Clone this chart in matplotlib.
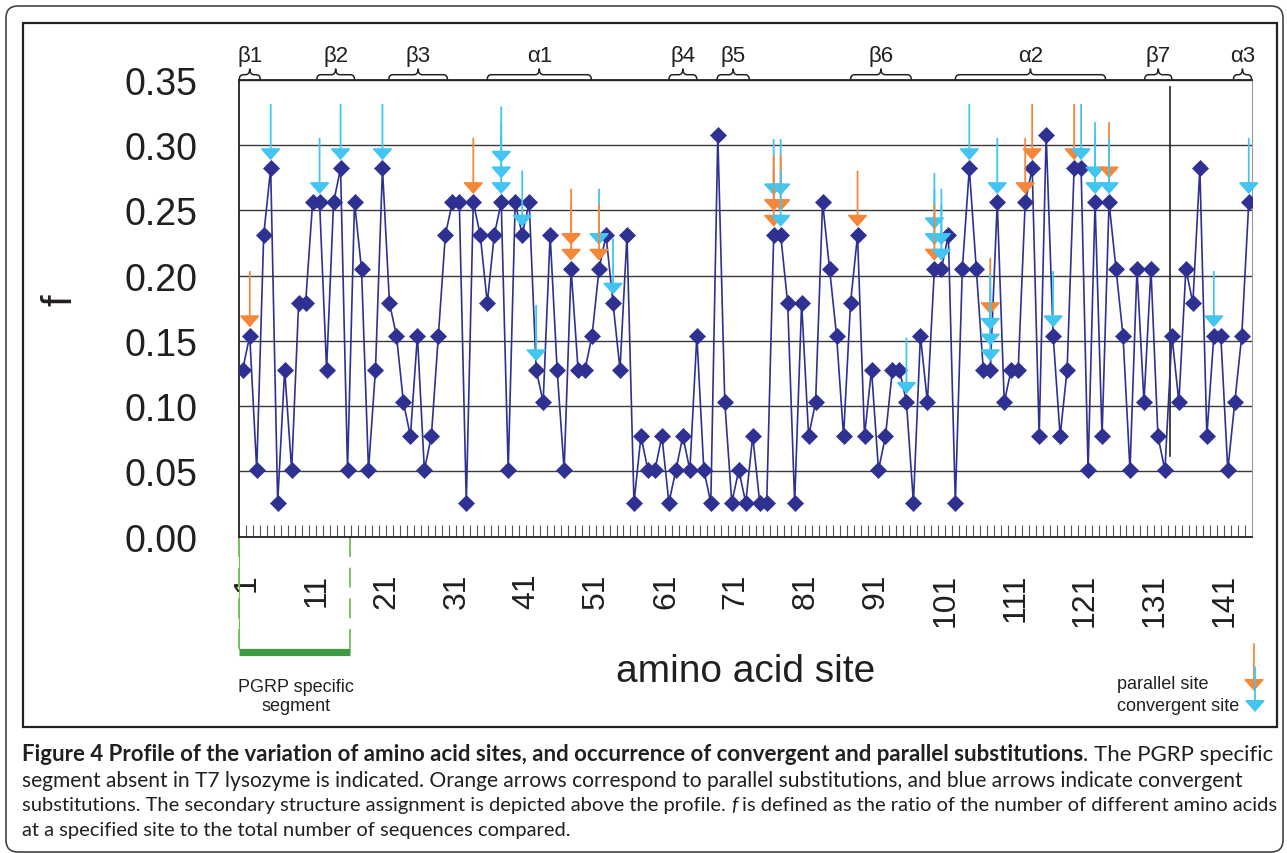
import numpy as np
import matplotlib
matplotlib.use("Agg")
import matplotlib.pyplot as plt
from matplotlib import font_manager
from matplotlib.path import Path
from matplotlib.patches import PathPatch, FancyBboxPatch, Rectangle
from matplotlib.transforms import (blended_transform_factory, offset_copy, IdentityTransform,
                                   ScaledTranslation)

# 各サイトの f 値 (1..145)
sites = np.arange(1, 146)
f_values = [
    0.128, 0.154, 0.051, 0.231, 0.282, 0.026, 0.128, 0.051, 0.179, 0.179,
    0.256, 0.256, 0.128, 0.256, 0.282, 0.051, 0.256, 0.205, 0.051, 0.128,
    0.282, 0.179, 0.154, 0.103, 0.077, 0.154, 0.051, 0.077, 0.154, 0.231,
    0.256, 0.256, 0.026, 0.256, 0.231, 0.179, 0.231, 0.256, 0.051, 0.256,
    0.231, 0.256, 0.128, 0.103, 0.231, 0.128, 0.051, 0.205, 0.128, 0.128,
    0.154, 0.205, 0.231, 0.179, 0.128, 0.231, 0.026, 0.077, 0.051, 0.051,
    0.077, 0.026, 0.051, 0.077, 0.051, 0.154, 0.051, 0.026, 0.308, 0.103,
    0.026, 0.051, 0.026, 0.077, 0.026, 0.026, 0.231, 0.231, 0.179, 0.026,
    0.179, 0.077, 0.103, 0.256, 0.205, 0.154, 0.077, 0.179, 0.231, 0.077,
    0.128, 0.051, 0.077, 0.128, 0.128, 0.103, 0.026, 0.154, 0.103, 0.205,
    0.205, 0.231, 0.026, 0.205, 0.282, 0.205, 0.128, 0.128, 0.256, 0.103,
    0.128, 0.128, 0.256, 0.282, 0.077, 0.308, 0.154, 0.077, 0.128, 0.282,
    0.282, 0.051, 0.256, 0.077, 0.256, 0.205, 0.154, 0.051, 0.205, 0.103,
    0.205, 0.077, 0.051, 0.154, 0.103, 0.205, 0.179, 0.282, 0.077, 0.154,
    0.154, 0.051, 0.103, 0.154, 0.256,
]
tick_sites = [1, 11, 21, 31, 41, 51, 61, 71, 81, 91, 101, 111, 121, 131, 141]
y_ticks = [0.00, 0.05, 0.10, 0.15, 0.20, 0.25, 0.30, 0.35]

# 矢印 (P=parallel, C=convergent, 上から順)
arrow_sites = [2, 5, 12, 15, 21, 34, 38, 41, 43, 48, 52, 54, 77, 78, 89,
               96, 100, 101, 105, 108, 109, 113, 114, 117, 120, 121, 123, 125, 140, 145]
arrow_kinds = ["P", "C", "C", "C", "C", "P", "CCC", "C", "C", "PP", "CP", "C", "CPP", "CPC", "P",
               "C", "CCP", "CC", "C", "PCCC", "C", "P", "P", "C", "P", "C", "CC", "PC", "C", "C"]

# 二次構造
ss_labels = ["β1", "β2", "β3", "α1", "β4", "β5", "β6", "α2", "β7", "α3"]
ss_start = [0.5, 11.6, 21.9, 36.0, 62.0, 68.9, 88.0, 103.0, 130.1, 142.8]
ss_end = [3.5, 17.0, 30.3, 50.9, 66.0, 73.5, 96.7, 124.5, 134.0, 145.4]

pgrp_start, pgrp_end = 0.5, 16.4  # PGRP specific segment
t7_split = 133.7  # 縦の区切り線

navy = '#2e3192'
arrow_color = {"P": '#f5873a', "C": '#42c5f1'}
txt = '#231f20'

names = {f.name for f in font_manager.fontManager.ttflist}
if 'Liberation Sans Narrow' in names:
    xt_family, xt_size = 'Liberation Sans Narrow', 28
else:
    xt_family, xt_size = 'Liberation Sans', 23
cap_family = 'Lato' if 'Lato' in names else 'DejaVu Sans'
plt.rcParams['font.family'] = ['Liberation Sans', 'DejaVu Sans']

fig = plt.figure(figsize=(12.87, 8.54), dpi=100)
ax = fig.add_axes([0.1859, 0.3704, 0.7871, 0.5351])

ax.plot(sites, f_values, color=navy, lw=1.2, marker='D', ms=8.5,
        mfc=navy, mec=navy, mew=0.5, zorder=3)

ax.set_xlim(0.5, 145.5)
ax.set_ylim(0, 0.35)
ax.set_yticks(y_ticks)
ax.set_yticklabels(["{:.2f}".format(v) for v in y_ticks], fontsize=27, color=txt)
ax.tick_params(axis='y', length=0, pad=30)
ax.set_xticks(tick_sites)
ax.set_xticklabels([str(s) for s in tick_sites], rotation=90, fontsize=xt_size,
                   family=xt_family, color=txt)
ax.tick_params(axis='x', which='major', length=0, pad=26)
for lab in ax.get_xticklabels():
    lab.set_transform(lab.get_transform() + ScaledTranslation(4 / 100, 0, fig.dpi_scale_trans))
ax.set_xticks(np.arange(1.5, 145.5, 1.0), minor=True)
ax.tick_params(axis='x', which='minor', direction='in', length=8.6, width=0.8, color='#555555')
ax.grid(axis='y', color='#3a3a3a', lw=1.0)
ax.set_axisbelow(True)

for side in ['left', 'top', 'bottom']:
    ax.spines[side].set_color('#222222')
    ax.spines[side].set_linewidth(1.3)
ax.spines['right'].set_color('#999999')

ax.set_ylabel("f", fontsize=30, color=txt)
ax.yaxis.set_label_coords(-0.157, 0.52)
ax.set_xlabel("amino acid site", fontsize=28, color=txt, va='center')
ax.xaxis.set_label_coords(0.5, -0.294)

bt = blended_transform_factory(ax.transData, ax.transAxes)

# 区切り線
ax.plot([t7_split, t7_split], [0.177, 0.984], transform=bt, color='#222222', lw=1.2, zorder=2)

# 矢印
arrow_style = '-|>,head_length=0.7,head_width=0.62'
for s, kinds in zip(arrow_sites, arrow_kinds):
    fv = f_values[s - 1]
    n = len(kinds)
    for i, k in enumerate(kinds):
        j = n - 1 - i
        tr = offset_copy(ax.transData, fig=fig, x=0, y=6 + j * 11.3, units='points')
        ax.annotate('', xy=(s, fv), xycoords=tr, xytext=(0, 40), textcoords='offset points',
                    arrowprops=dict(arrowstyle=arrow_style, color=arrow_color[k], lw=1.3,
                                    shrinkA=0, shrinkB=0), zorder=4)

# 二次構造の波括弧
h1, h2 = 5 / 457, 11 / 457
for lab, x0, x1 in zip(ss_labels, ss_start, ss_end):
    xm = (x0 + x1) / 2
    r = min(0.6, (x1 - x0) / 4)
    verts = [(x0, 1), (x0, 1 + h1), (x0 + r, 1 + h1), (xm - r, 1 + h1),
             (xm, 1 + h1), (xm, 1 + h2), (xm, 1 + h1), (xm + r, 1 + h1),
             (x1 - r, 1 + h1), (x1, 1 + h1), (x1, 1)]
    codes = [Path.MOVETO, Path.CURVE3, Path.CURVE3, Path.LINETO,
             Path.CURVE3, Path.CURVE3, Path.CURVE3, Path.CURVE3,
             Path.LINETO, Path.CURVE3, Path.CURVE3]
    ax.add_patch(PathPatch(Path(verts, codes), transform=bt, fill=False,
                           ec='#222222', lw=1.1, clip_on=False))
    ax.text(xm, 1.052, lab, transform=bt, ha='center', va='center', fontsize=16, color=txt)

# PGRP specific segment
green_d, green_s = '#72c04f', '#3d9a40'
ax.plot([pgrp_start, pgrp_start], [0, -0.245], transform=bt, color=green_d, lw=0.8, clip_on=False)
for xg in [pgrp_start, pgrp_end]:
    ax.plot([xg, xg], [0, -0.245], transform=bt, color=green_d, lw=1.3,
            ls=(0, (11, 6)), clip_on=False)
ax.plot([pgrp_start, pgrp_end], [-0.253, -0.253], transform=bt, color=green_s, lw=5.2,
        solid_capstyle='butt', clip_on=False)
fig.text(296, 157, "PGRP specific\nsegment", transform=IdentityTransform(),
         ha='center', va='center', fontsize=13, color=txt, linespacing=1.2)

# 凡例
fig.text(1117, 169, "parallel site", transform=IdentityTransform(), ha='left', va='center',
         fontsize=13, color=txt)
fig.text(1117, 147, "convergent site", transform=IdentityTransform(), ha='left', va='center',
         fontsize=13, color=txt)
ax.annotate('', xy=(1254, 162), xycoords='figure pixels', xytext=(1254, 209),
            textcoords='figure pixels',
            arrowprops=dict(arrowstyle=arrow_style, color=arrow_color["P"], lw=1.3,
                            shrinkA=0, shrinkB=0))
ax.annotate('', xy=(1255, 141), xycoords='figure pixels', xytext=(1255, 186),
            textcoords='figure pixels',
            arrowprops=dict(arrowstyle=arrow_style, color=arrow_color["C"], lw=1.3,
                            shrinkA=0, shrinkB=0))

# 枠
fig.add_artist(FancyBboxPatch((6, 1), 1277, 846, boxstyle='round,pad=0,rounding_size=12',
                              transform=IdentityTransform(), fill=False, ec='#444444', lw=1.2))
fig.add_artist(Rectangle((23, 126), 1254, 704, transform=IdentityTransform(),
                         fill=False, ec='#222222', lw=1.6))

# キャプション
caption = [
    [("Figure 4 Profile of the variation of amino acid sites, and occurrence of convergent and parallel substitutions", 'bold', 'normal'),
     (". The PGRP specific", 'normal', 'normal')],
    [("segment absent in T7 lysozyme is indicated. Orange arrows correspond to parallel substitutions, and blue arrows indicate convergent", 'normal', 'normal')],
    [("substitutions. The secondary structure assignment is depicted above the profile.", 'normal', 'normal'),
     (" f", 'normal', 'italic'),
     (" is defined as the ratio of the number of different amino acids", 'normal', 'normal')],
    [("at a specified site to the total number of sequences compared.", 'normal', 'normal')],
]
cap_y = [99, 73, 48, 23]
cap_right = [1272, 1248, 1272, 570]  # 各行の右端 (px)

renderer = fig.canvas.get_renderer()


def put_line(y, parts, size):
    x = 22
    made = []
    for s, weight, style in parts:
        lead = len(s) - len(s.lstrip(' '))
        if lead:
            a = fig.text(0, 0, "x x", fontsize=size, family=cap_family)
            b = fig.text(0, 0, "xx", fontsize=size, family=cap_family)
            x += lead * (a.get_window_extent(renderer).width - b.get_window_extent(renderer).width)
            a.remove()
            b.remove()
        t = fig.text(x, y, s.lstrip(' '), transform=IdentityTransform(), fontsize=size,
                     family=cap_family, fontweight=weight, fontstyle=style, va='center',
                     color=txt)
        made.append(t)
        x = t.get_window_extent(renderer).x1
    return made, x


# 行ごとに幅を合わせる (2回で収束させる)
for y, parts, xr in zip(cap_y, caption, cap_right):
    size = 12
    for _ in range(2):
        made, x_end = put_line(y, parts, size)
        for t in made:
            t.remove()
        size = size * (xr - 22) / (x_end - 22)
    put_line(y, parts, size)

fig.savefig("out.png", dpi=100)
